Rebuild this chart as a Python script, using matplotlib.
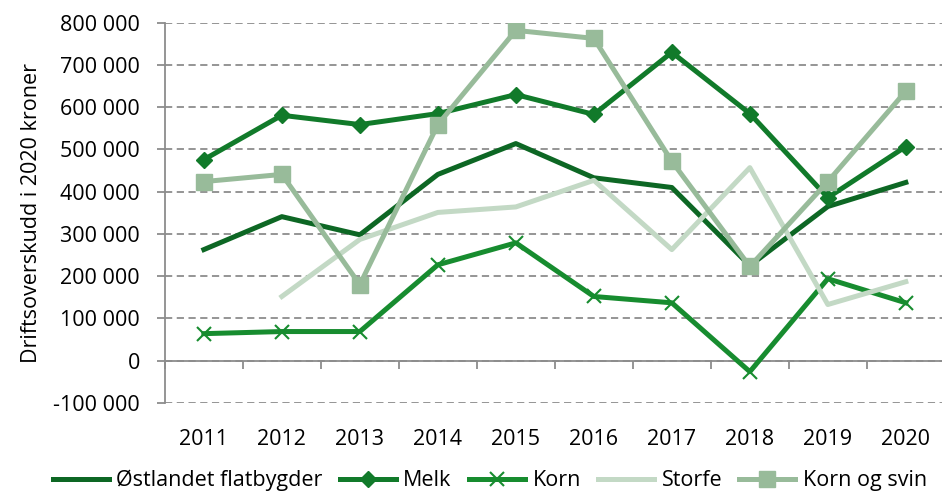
import numpy as np
import matplotlib.pyplot as plt
from matplotlib.ticker import FuncFormatter

years = ['2011', '2012', '2013', '2014', '2015', '2016', '2017', '2018', '2019', '2020']

ostlandet = [263000, 341000, 298000, 441000, 514000, 433000, 410000, 225000, 365000, 422000]
melk = [476000, 581000, 559000, 585000, 630000, 583000, 730000, 585000, 386000, 507000]
korn = [64000, 69000, 69000, 227000, 279000, 152000, 137000, -26000, 194000, 137000]
storfe = [np.nan, 152000, 287000, 351000, 364000, 427000, 263000, 457000, 133000, 187000]
korn_svin = [424000, 441000, 180000, 559000, 782000, 763000, 472000, 223000, 424000, 638000]

plt.rcParams['font.family'] = ['Open Sans', 'DejaVu Sans']
fs = 15.5

fig = plt.figure(figsize=(9.42, 4.95), dpi=100)
ax = fig.add_axes([0.175, 0.186, 0.828, 0.768])

x = np.arange(len(years))
lw = 3.6
ax.plot(x, ostlandet, color='#0d6724', lw=lw, label='Østlandet flatbygder', zorder=3)
ax.plot(x, melk, color='#117a2a', lw=lw, marker='D', ms=8.5, label='Melk', zorder=3)
ax.plot(x, korn, color='#178c2f', lw=lw, marker='x', ms=10, mew=1.5, label='Korn', zorder=3)
ax.plot(x, storfe, color='#c3d9c5', lw=lw, label='Storfe', zorder=3)
ax.plot(x, korn_svin, color='#98bb9a', lw=lw, marker='s', ms=11, label='Korn og svin', zorder=3)

ax.set_xlim(-0.5, 9.5)
ax.set_ylim(-100000, 800000)
ax.set_yticks(np.arange(-100000, 800001, 100000))
ax.yaxis.set_major_formatter(FuncFormatter(lambda v, p: f'{int(v):,}'.replace(',', ' ')))
ax.grid(axis='y', color='#8c8c8c', linestyle=(0, (4, 2.5)), lw=1.3, zorder=0)

for s in ['top', 'right']:
    ax.spines[s].set_visible(False)
ax.spines['left'].set_color('#8c8c8c')
ax.spines['left'].set_linewidth(1.3)
ax.spines['bottom'].set_position(('data', 0))
ax.spines['bottom'].set_color('#8c8c8c')
ax.spines['bottom'].set_linewidth(1.3)

ax.set_xticks(x)
ax.set_xticklabels(years)
ax.set_xticks(np.arange(-0.5, 9.6, 1), minor=True)
ax.tick_params(axis='x', which='major', length=0, pad=49, labelsize=fs)
ax.tick_params(axis='x', which='minor', length=6, width=1.3, color='#8c8c8c', direction='out')
ax.tick_params(axis='y', length=6, width=1.3, color='#8c8c8c', labelsize=fs, pad=12)

ax.set_ylabel('Driftsoverskudd i 2020 kroner', fontsize=fs, labelpad=8)

fig.legend(loc='lower center', bbox_to_anchor=(0.52, -0.032), ncol=5, frameon=False,
           fontsize=fs, handlelength=2.6, columnspacing=0.8, handletextpad=0.35)

fig.savefig('out.png', dpi=100)
